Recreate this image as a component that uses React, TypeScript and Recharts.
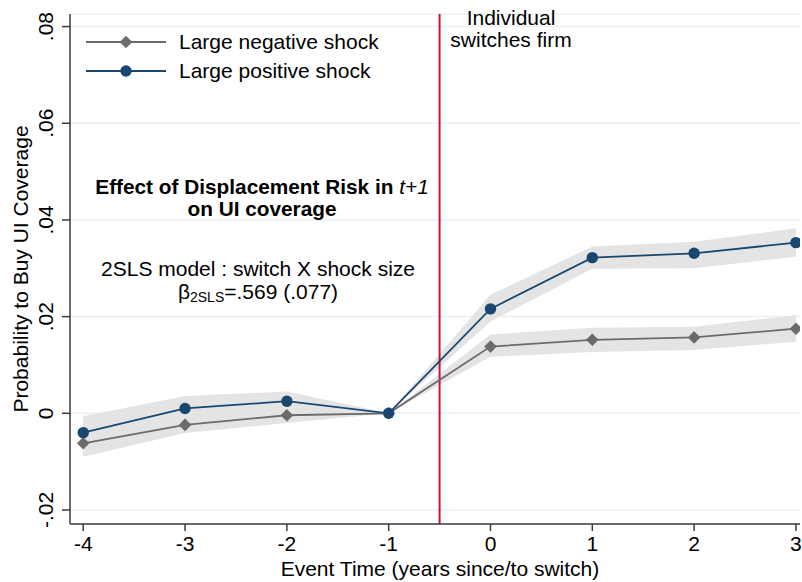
import React from 'react';
import { ComposedChart, Line, Area, XAxis, YAxis, CartesianGrid, ReferenceLine, Customized } from 'recharts';

const years = [-4, -3, -2, -1, 0, 1, 2, 3];
const negShock = [-0.0062, -0.0024, -0.0004, 0, 0.0138, 0.0152, 0.0157, 0.0175];
const negLow = [-0.009, -0.0041, -0.002, 0, 0.0117, 0.0127, 0.0131, 0.0148];
const negHigh = [-0.0034, -0.0007, 0.0012, 0, 0.0163, 0.0177, 0.0179, 0.0203];
const posShock = [-0.004, 0.001, 0.0025, 0, 0.0216, 0.0322, 0.0331, 0.0353];
const posLow = [-0.0074, -0.0016, 0.0005, 0, 0.019, 0.0299, 0.03, 0.0324];
const posHigh = [-0.0006, 0.0036, 0.0045, 0, 0.0245, 0.0345, 0.0355, 0.0383];
const yTicks = [-0.02, 0, 0.02, 0.04, 0.06, 0.08];

const FONT = '"Liberation Sans", Arial, Helvetica, sans-serif';
const FS = 21;
const BLUE = '#1a476f';
const GRAY = '#6b6b6b';
const BAND = '#e4e4e4';
const RED = '#c8143c';

const data = years.map((t, i) => ({
  t,
  neg: negShock[i],
  negBand: [negLow[i], negHigh[i]],
  pos: posShock[i],
  posBand: [posLow[i], posHigh[i]],
}));

const fmt = (v: number) => (v === 0 ? '0' : v.toFixed(2).replace('0.', '.'));

function Diamond({ cx, cy }: any) {
  if (cx == null || cy == null) return null;
  const s = 6.3;
  return <polygon points={`${cx},${cy - s} ${cx + s},${cy} ${cx},${cy + s} ${cx - s},${cy}`} fill={GRAY} />;
}

function Dot({ cx, cy }: any) {
  if (cx == null || cy == null) return null;
  return <circle cx={cx} cy={cy} r={5.7} fill={BLUE} />;
}

function YTick({ y, payload }: any) {
  return (
    <text x={53} y={y} transform={`rotate(-90 53 ${y})`} textAnchor="middle" fontSize={FS} fill="#000" fontFamily={FONT}>
      {fmt(payload.value)}
    </text>
  );
}

function XTick({ x, y, payload }: any) {
  return (
    <text x={x} y={y + 18} textAnchor="middle" fontSize={FS} fill="#000" fontFamily={FONT}>
      {payload.value}
    </text>
  );
}

function Notes() {
  const t = { fontFamily: FONT, fill: '#000', fontSize: FS } as const;
  return (
    <g>
      <text x={28} y={269} transform="rotate(-90 28 269)" textAnchor="middle" {...t}>
        Probability to Buy UI Coverage
      </text>
      <text x={440} y={576} textAnchor="middle" {...t}>Event Time (years since/to switch)</text>

      <text x={511} y={25} textAnchor="middle" {...t}>Individual</text>
      <text x={511} y={47} textAnchor="middle" {...t}>switches firm</text>

      <line x1={86} x2={166} y1={42} y2={42} stroke={GRAY} strokeWidth={2} />
      <Diamond cx={126} cy={42} />
      <text x={179} y={49} {...t}>Large negative shock</text>
      <line x1={86} x2={166} y1={71} y2={71} stroke={BLUE} strokeWidth={2} />
      <Dot cx={126} cy={71} />
      <text x={179} y={78} {...t}>Large positive shock</text>

      <text x={262} y={194} textAnchor="middle" fontWeight="bold" {...t} fontSize={20.8}>
        Effect of Displacement Risk in <tspan fontStyle="italic" fontWeight="normal">t+1</tspan>
      </text>
      <text x={262} y={216} textAnchor="middle" fontWeight="bold" {...t} fontSize={20.8}>on UI coverage</text>
      <text x={258} y={276} textAnchor="middle" {...t}>2SLS model : switch X shock size</text>
      <text x={258} y={299} textAnchor="middle" {...t}>
        β<tspan fontSize={14} dy={3}>2SLS</tspan><tspan dy={-3}>=.569 (.077)</tspan>
      </text>
    </g>
  );
}

export default function App() {
  return (
    <div style={{ position: 'absolute', left: 0, top: 0, background: '#fff' }}>
      <ComposedChart width={802} height={582} data={data} margin={{ top: 14, right: 2, bottom: 0, left: 0 }}>
        <CartesianGrid vertical={false} stroke="#eaf2f3" strokeWidth={1.5} />
        <XAxis
          dataKey="t"
          type="number"
          domain={[-4.13, 3.04]}
          ticks={years}
          allowDataOverflow
          height={58}
          tickSize={7}
          stroke="#3b3b3b"
          strokeWidth={1.5}
          tick={<XTick />}
          interval={0}
        />
        <YAxis
          type="number"
          domain={[-0.0229, 0.0826]}
          ticks={yTicks}
          allowDataOverflow
          width={70}
          tickSize={8}
          stroke="#3b3b3b"
          strokeWidth={1.5}
          tick={<YTick />}
          interval={0}
        />
        <Area dataKey="negBand" stroke="none" fill={BAND} fillOpacity={1} isAnimationActive={false} activeDot={false} />
        <Area dataKey="posBand" stroke="none" fill={BAND} fillOpacity={1} isAnimationActive={false} activeDot={false} />
        <ReferenceLine x={-0.5} stroke={RED} strokeWidth={2} />
        <Line dataKey="neg" stroke={GRAY} strokeWidth={1.8} dot={<Diamond />} activeDot={false} isAnimationActive={false} />
        <Line dataKey="pos" stroke={BLUE} strokeWidth={1.8} dot={<Dot />} activeDot={false} isAnimationActive={false} />
        <Customized component={<Notes />} />
      </ComposedChart>
    </div>
  );
}
